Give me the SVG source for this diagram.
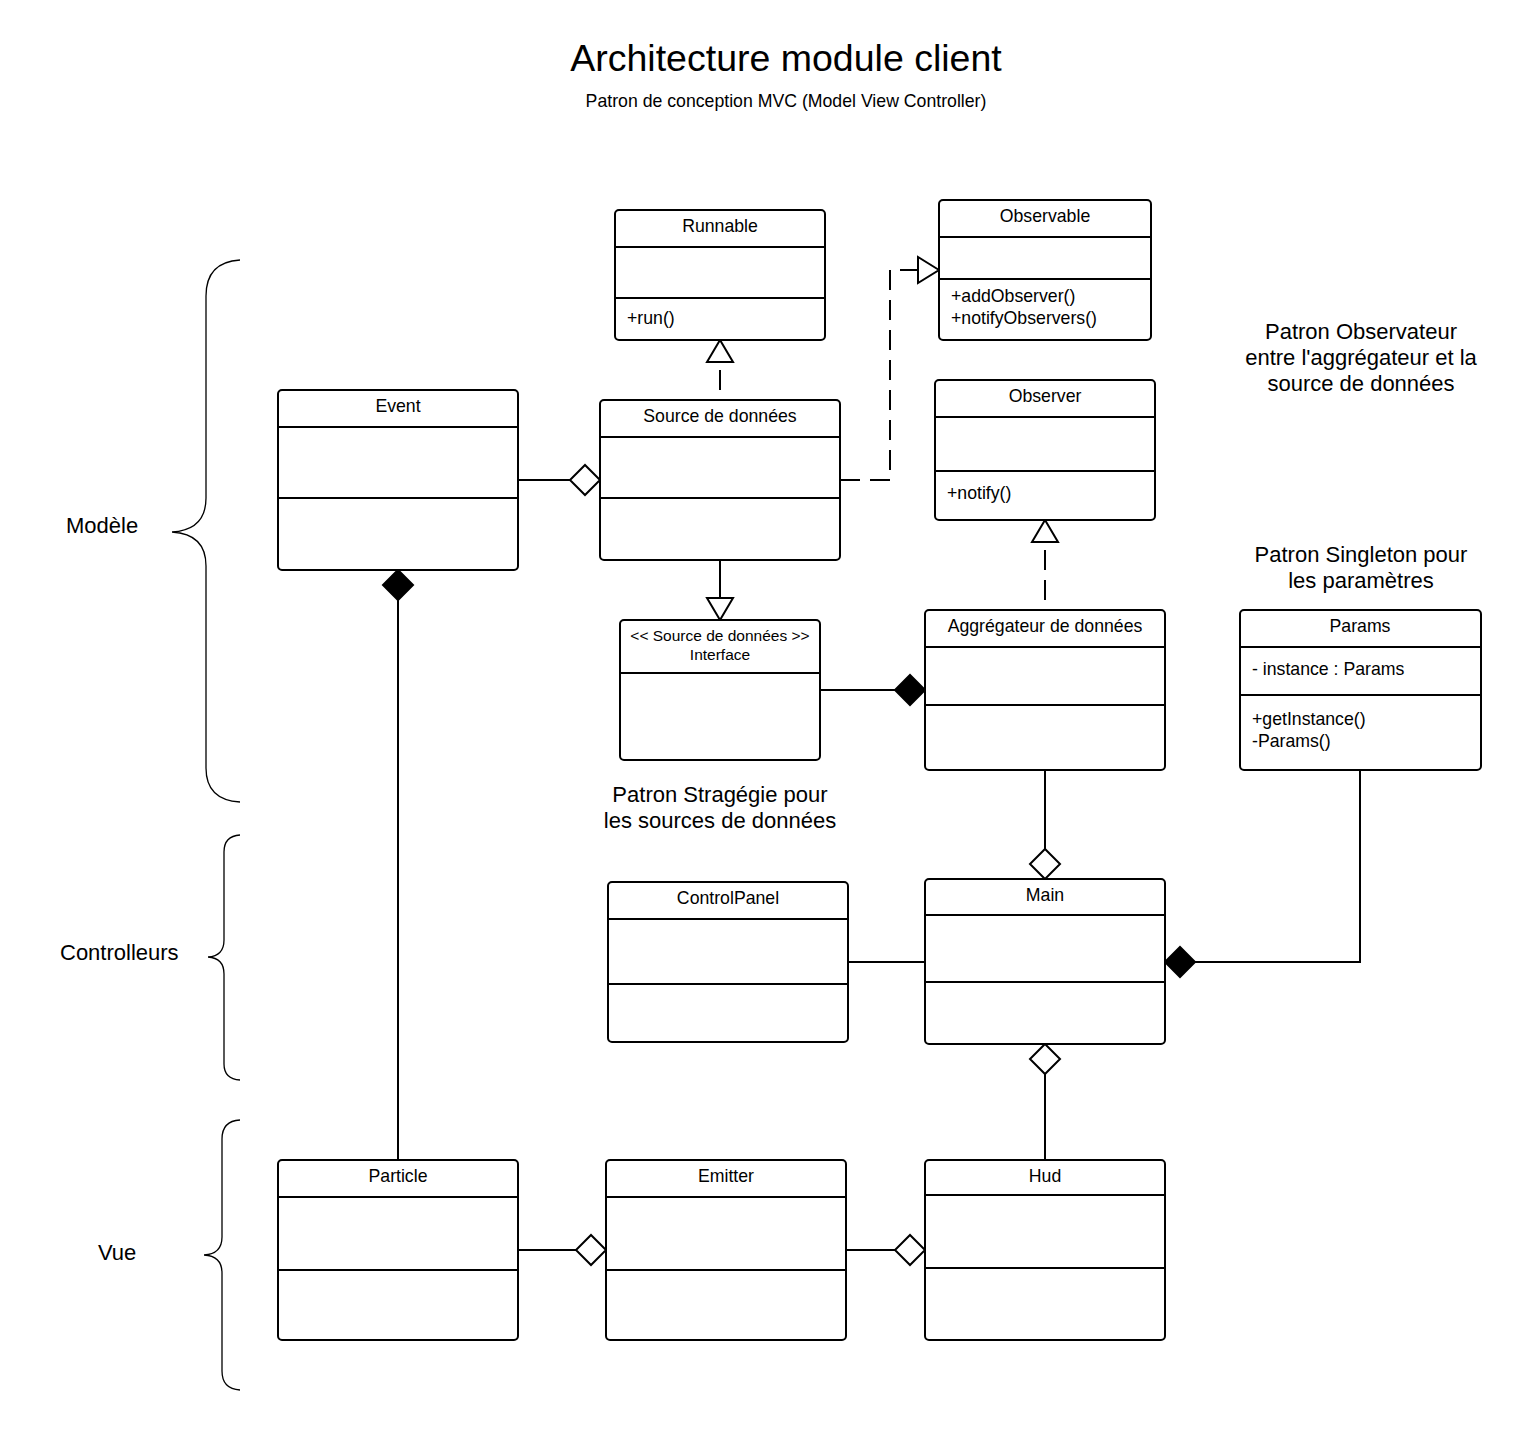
<svg xmlns="http://www.w3.org/2000/svg" width="1521" height="1430" viewBox="0 0 1521 1430">
<style>
text{font-family:"Liberation Sans",Arial,sans-serif;fill:#000}
.box{fill:#fff;stroke:#000;stroke-width:2}
.div{stroke:#000;stroke-width:2;fill:none}
.lbl{font-size:17.7px;text-anchor:middle}
.body{font-size:17.7px}
.small{font-size:15.5px;text-anchor:middle}
.ann{font-size:22px;text-anchor:middle}
.side{font-size:22px}
.ln{stroke:#000;stroke-width:2;fill:none}
.dash{stroke:#000;stroke-width:2;fill:none;stroke-dasharray:20 10}
.dashoff{stroke-dashoffset:20}
.hol{fill:#fff;stroke:#000;stroke-width:2}
.fil{fill:#000;stroke:#000;stroke-width:2}
.brace{stroke:#000;stroke-width:1.3;fill:none}
</style>
<rect width="1521" height="1430" fill="#fff"/>
<text x="786" y="71" style="font-size:37.5px;text-anchor:middle">Architecture module client</text>
<text x="786" y="107" style="font-size:17.7px;text-anchor:middle">Patron de conception MVC (Model View Controller)</text>

<g id="connectors">
<path class="dash dashoff" d="M720 400 V362"/>
<polygon class="hol" points="720,340 707,362 733,362"/>
<path class="dash" d="M840 480 H890 V270 H918"/>
<polygon class="hol" points="939,270 918,257 918,283"/>
<path class="ln" d="M518 480 H570"/>
<polygon class="hol" points="600,480 585,465 570,480 585,495"/>
<polygon class="fil" points="398,570 413,585 398,600 383,585"/>
<path class="ln" d="M398 600 V1160"/>
<path class="ln" d="M720 560 V598"/>
<polygon class="hol" points="720,620 707,598 733,598"/>
<path class="ln" d="M820 690 H895"/>
<polygon class="fil" points="925,690 910,675 895,690 910,705"/>
<path class="dash dashoff" d="M1045 610 V542"/>
<polygon class="hol" points="1045,520 1032,542 1058,542"/>
<path class="ln" d="M1045 770 V849"/>
<polygon class="hol" points="1045,879 1060,864 1045,849 1030,864"/>
<path class="ln" d="M848 962 H925"/>
<path class="ln" d="M1360 770 V962 H1195"/>
<polygon class="fil" points="1165,962 1180,947 1195,962 1180,977"/>
<polygon class="hol" points="1045,1044 1060,1059 1045,1074 1030,1059"/>
<path class="ln" d="M1045 1074 V1160"/>
<path class="ln" d="M518 1250 H576"/>
<polygon class="hol" points="606,1250 591,1235 576,1250 591,1265"/>
<path class="ln" d="M846 1250 H895"/>
<polygon class="hol" points="925,1250 910,1235 895,1250 910,1265"/>
</g>

<g id="runnable">
<rect class="box" x="615" y="210" width="210" height="130" rx="4"/>
<path class="div" d="M615 247 H825 M615 298 H825"/>
<text class="lbl" x="720" y="232">Runnable</text>
<text class="body" x="627" y="324">+run()</text>
</g>
<g id="observable">
<rect class="box" x="939" y="200" width="212" height="140" rx="4"/>
<path class="div" d="M939 237 H1151 M939 279 H1151"/>
<text class="lbl" x="1045" y="222">Observable</text>
<text class="body" x="951" y="302">+addObserver()</text>
<text class="body" x="951" y="324">+notifyObservers()</text>
</g>
<g id="event">
<rect class="box" x="278" y="390" width="240" height="180" rx="4"/>
<path class="div" d="M278 427 H518 M278 498 H518"/>
<text class="lbl" x="398" y="412">Event</text>
</g>
<g id="source">
<rect class="box" x="600" y="400" width="240" height="160" rx="4"/>
<path class="div" d="M600 437 H840 M600 498 H840"/>
<text class="lbl" x="720" y="422">Source de données</text>
</g>
<g id="observer">
<rect class="box" x="935" y="380" width="220" height="140" rx="4"/>
<path class="div" d="M935 417 H1155 M935 471 H1155"/>
<text class="lbl" x="1045" y="402">Observer</text>
<text class="body" x="947" y="499">+notify()</text>
</g>
<g id="interface">
<rect class="box" x="620" y="620" width="200" height="140" rx="4"/>
<path class="div" d="M620 673 H820"/>
<text class="small" x="720" y="641">&lt;&lt; Source de données &gt;&gt;</text>
<text class="small" x="720" y="660">Interface</text>
</g>
<g id="aggregateur">
<rect class="box" x="925" y="610" width="240" height="160" rx="4"/>
<path class="div" d="M925 647 H1165 M925 705 H1165"/>
<text class="lbl" x="1045" y="632">Aggrégateur de données</text>
</g>
<g id="params">
<rect class="box" x="1240" y="610" width="241" height="160" rx="4"/>
<path class="div" d="M1240 647 H1481 M1240 695 H1481"/>
<text class="lbl" x="1360" y="632">Params</text>
<text class="body" x="1252" y="675">- instance : Params</text>
<text class="body" x="1252" y="725">+getInstance()</text>
<text class="body" x="1252" y="747">-Params()</text>
</g>
<g id="controlpanel">
<rect class="box" x="608" y="882" width="240" height="160" rx="4"/>
<path class="div" d="M608 919 H848 M608 984 H848"/>
<text class="lbl" x="728" y="904">ControlPanel</text>
</g>
<g id="main">
<rect class="box" x="925" y="879" width="240" height="165" rx="4"/>
<path class="div" d="M925 915 H1165 M925 982 H1165"/>
<text class="lbl" x="1045" y="901">Main</text>
</g>
<g id="particle">
<rect class="box" x="278" y="1160" width="240" height="180" rx="4"/>
<path class="div" d="M278 1197 H518 M278 1270 H518"/>
<text class="lbl" x="398" y="1182">Particle</text>
</g>
<g id="emitter">
<rect class="box" x="606" y="1160" width="240" height="180" rx="4"/>
<path class="div" d="M606 1197 H846 M606 1270 H846"/>
<text class="lbl" x="726" y="1182">Emitter</text>
</g>
<g id="hud">
<rect class="box" x="925" y="1160" width="240" height="180" rx="4"/>
<path class="div" d="M925 1195 H1165 M925 1268 H1165"/>
<text class="lbl" x="1045" y="1182">Hud</text>
</g>

<g id="annotations">
<text class="ann" x="1361" y="339">Patron Observateur</text>
<text class="ann" x="1361" y="365">entre l'aggrégateur et la</text>
<text class="ann" x="1361" y="391">source de données</text>
<text class="ann" x="1361" y="562">Patron Singleton pour</text>
<text class="ann" x="1361" y="588">les paramètres</text>
<text class="ann" x="720" y="802">Patron Stragégie pour</text>
<text class="ann" x="720" y="828">les sources de données</text>
</g>

<g id="modele">
<path class="brace" d="M240 260 Q206 262 206 296 V498 Q206 530 172 532 Q206 534 206 566 V768 Q206 800 240 802"/>
<text class="side" x="66" y="533">Modèle</text>
</g>
<g id="controlleurs">
<path class="brace" d="M240 835 Q224 836 224 852 V940 Q224 956 208 957 Q224 958 224 974 V1064 Q224 1079 240 1080"/>
<text class="side" x="60" y="960">Controlleurs</text>
</g>
<g id="vue">
<path class="brace" d="M240 1120 Q222 1121 222 1139 V1237 Q222 1254 204 1255 Q222 1256 222 1273 V1371 Q222 1389 240 1390"/>
<text class="side" x="98" y="1260">Vue</text>
</g>
</svg>
